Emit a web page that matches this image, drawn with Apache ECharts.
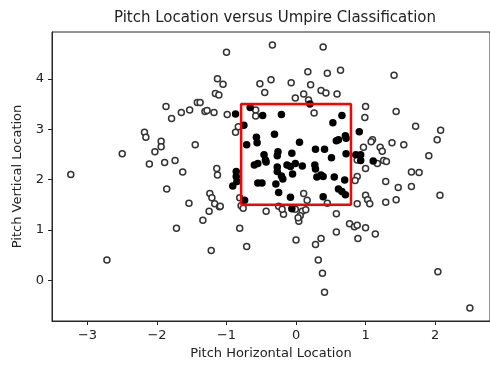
<!DOCTYPE html>
<html>
<head>
<meta charset="utf-8">
<script src="https://cdn.jsdelivr.net/npm/echarts@6/dist/echarts.min.js"></script>
<style>
html,body{margin:0;padding:0;background:#fff;}
#chart{width:490px;height:365px;}
</style>
</head>
<body>
<div id="chart"></div>
<script>
// Pitches judged outside the zone (hollow markers): [horizontal, vertical]
var ballPitches = [
  [-1.00,4.53],[-1.13,4.00],[-1.05,3.89],[-1.16,3.71],[-1.11,3.68],[-0.52,3.90],[-0.45,3.73],
  [-1.87,3.45],[-1.79,3.21],[-1.65,3.33],[-1.53,3.38],[-1.42,3.53],[-1.38,3.53],[-1.31,3.35],
  [-1.28,3.37],[-1.18,3.33],[-0.99,3.29],[-0.58,3.38],[-0.58,3.26],[-0.83,3.05],[-0.87,2.94],
  [-2.18,2.94],[-2.16,2.84],[-1.94,2.76],[-1.94,2.65],[-2.03,2.55],[-2.50,2.51],[-1.45,2.69],
  [-2.11,2.31],[-1.89,2.34],[-1.74,2.38],[-1.63,2.15],[-1.14,2.22],[-1.13,2.09],[-3.24,2.10],
  [-1.86,1.81],[-1.24,1.72],[-1.21,1.64],[-1.54,1.53],[-1.17,1.52],[-1.10,1.46],[-1.25,1.37],
  [-1.34,1.19],[-1.72,1.03],[-0.81,1.03],[-1.22,0.59],[-0.71,0.67],[-2.72,0.40],[-0.81,1.64],
  [-0.79,1.48],[-0.76,1.43],[-0.43,1.37],
  [-0.34,4.67],[0.39,4.63],[0.17,4.14],[0.45,4.11],[0.64,4.17],[1.41,4.07],[-0.36,3.98],
  [-0.07,3.92],[0.21,3.88],[0.36,3.77],[0.43,3.72],[0.59,3.70],[0.11,3.70],[-0.01,3.62],
  [0.18,3.58],[0.26,3.32],[1.00,3.45],[0.99,3.23],[1.44,3.35],[1.72,3.06],[2.08,2.98],
  [2.03,2.79],[1.10,2.79],[1.08,2.75],[0.97,2.64],[1.21,2.64],[1.24,2.56],[1.38,2.73],
  [1.55,2.69],[1.91,2.47],[0.88,2.39],[1.00,2.22],[1.17,2.32],[1.26,2.38],[1.30,2.36],
  [1.66,2.15],[1.77,2.14],
  [0.88,2.06],[0.85,1.98],[1.29,1.96],[1.47,1.84],[1.66,1.86],[2.07,1.69],[1.00,1.69],
  [1.03,1.60],[1.06,1.52],[0.88,1.52],[1.29,1.55],[1.44,1.60],[0.11,1.72],[0.16,1.59],
  [0.45,1.53],[0.58,1.32],[-0.25,1.47],[-0.18,1.31],[-0.20,1.41],[-0.01,1.41],[0.09,1.37],
  [0.14,1.40],[0.06,1.28],[0.04,1.17],[0.03,1.24],[0.77,1.12],[0.84,1.06],[0.88,1.09],
  [1.00,1.04],[1.14,0.92],[0.89,0.83],[0.58,0.96],[0.36,0.83],[0.28,0.71],[0.00,0.80],
  [0.32,0.40],[0.38,0.14],[0.41,-0.24],[2.04,0.17],[2.50,-0.55],[-1.09,1.47]
];
// Pitches judged strikes (filled markers)
var strikePitches = [
  [-0.87,3.30],[-0.66,3.43],[-0.48,3.27],[-0.75,3.08],[-0.71,2.69],[-0.57,2.84],[-0.56,2.73],
  [-0.46,2.49],[-0.44,2.39],[-0.55,2.32],[-0.60,2.29],[-0.86,2.16],[-0.86,2.06],[-0.85,1.96],
  [-0.91,1.87],[-0.74,1.59],[-0.55,1.93],[-0.49,1.93],[-0.29,1.91],[-0.25,1.74],[-0.08,1.65],
  [-0.06,1.42],[0.39,1.66],[-0.21,3.29],[0.20,3.50],[0.66,3.27],[0.53,3.13],[0.91,2.95],
  [-0.31,2.90],[0.58,2.77],[0.61,2.79],[0.71,2.87],[0.72,2.82],[0.05,2.74],[0.28,2.60],
  [0.41,2.60],[-0.26,2.55],[-0.27,2.47],[-0.06,2.52],[0.51,2.43],[0.72,2.51],[0.86,2.49],
  [0.93,2.49],[0.93,2.38],[1.11,2.37],[-0.13,2.29],[-0.08,2.26],[-0.01,2.32],[-0.05,2.11],
  [0.09,2.27],[-0.27,2.25],[-0.27,2.16],[0.27,2.29],[0.28,2.21],[0.36,2.09],[0.39,2.06],
  [-0.21,2.07],[-0.19,2.01],[0.30,2.05],[0.55,2.05],[0.70,1.99],[0.61,1.81],[0.66,1.76],
  [0.71,1.70],[-0.43,2.35]
];
// Strike zone bounds
var zoneX = [-0.79, 0.79];
var zoneY = [1.5, 3.5];
// Axis ticks
var xTicks = [-3, -2, -1, 0, 1, 2];
var yTicks = [0, 1, 2, 3, 4];
var xRange = [-3.51, 2.79];
var yRange = [-0.81, 4.93];

var zonePath = [
  [zoneX[0], zoneY[0]], [zoneX[1], zoneY[0]], [zoneX[1], zoneY[1]],
  [zoneX[0], zoneY[1]], [zoneX[0], zoneY[0]]
];
function fmt(v){ return String(v).replace('-', '\u2212'); }
var FONT = 'DejaVu Sans';
var chart = echarts.init(document.getElementById('chart'), null, {renderer:'canvas'});
chart.setOption({
  animation: false,
  backgroundColor: '#ffffff',
  graphic: [{
    type: 'text', x: 275, y: 18,
    style: { text: 'Pitch Location versus Umpire Classification', font: '15px "DejaVu Sans"',
      fill: '#222', align: 'center', verticalAlign: 'middle' }
  }],
  grid: { left: 52, top: 32, width: 446, height: 290, show: true, borderColor: '#262626', borderWidth: 1, backgroundColor: 'transparent' },
  xAxis: {
    type: 'value', min: xRange[0], max: xRange[1],
    name: 'Pitch Horizontal Location', nameLocation: 'middle', nameGap: 26,
    nameTextStyle: { fontFamily: FONT, fontSize: 13, color: '#222' },
    axisLine: { show: true, onZero: false, lineStyle: { color: '#262626', width: 1 } },
    axisTick: { show: true, inside: false, length: 4, customValues: xTicks, lineStyle: { color: '#262626' } },
    axisLabel: { customValues: xTicks, formatter: fmt, margin: 8, fontFamily: FONT, fontSize: 13, color: '#222' },
    splitLine: { show: false }
  },
  yAxis: {
    type: 'value', min: yRange[0], max: yRange[1],
    name: 'Pitch Vertical Location', nameLocation: 'middle', nameGap: 28,
    nameTextStyle: { fontFamily: FONT, fontSize: 13, color: '#222' },
    axisLine: { show: true, onZero: false, lineStyle: { color: '#262626', width: 1 } },
    axisTick: { show: true, inside: false, length: 4, customValues: yTicks, lineStyle: { color: '#262626' } },
    axisLabel: { customValues: yTicks, formatter: fmt, margin: 8, fontFamily: FONT, fontSize: 13, color: '#222' },
    splitLine: { show: false }
  },
  series: [
    { type: 'scatter', data: ballPitches, symbol: 'circle', symbolSize: 6,
      itemStyle: { color: '#ffffff', borderColor: '#333333', borderWidth: 1.5, opacity: 1 }, z: 2 },
    { type: 'scatter', data: strikePitches, symbol: 'circle', symbolSize: 7.5,
      itemStyle: { color: '#000000', opacity: 1 }, z: 3 },
    { type: 'line', data: zonePath, symbol: 'none', lineStyle: { color: '#ff0000', width: 2.5 }, z: 4, silent: true }
  ]
});
</script>
</body>
</html>
